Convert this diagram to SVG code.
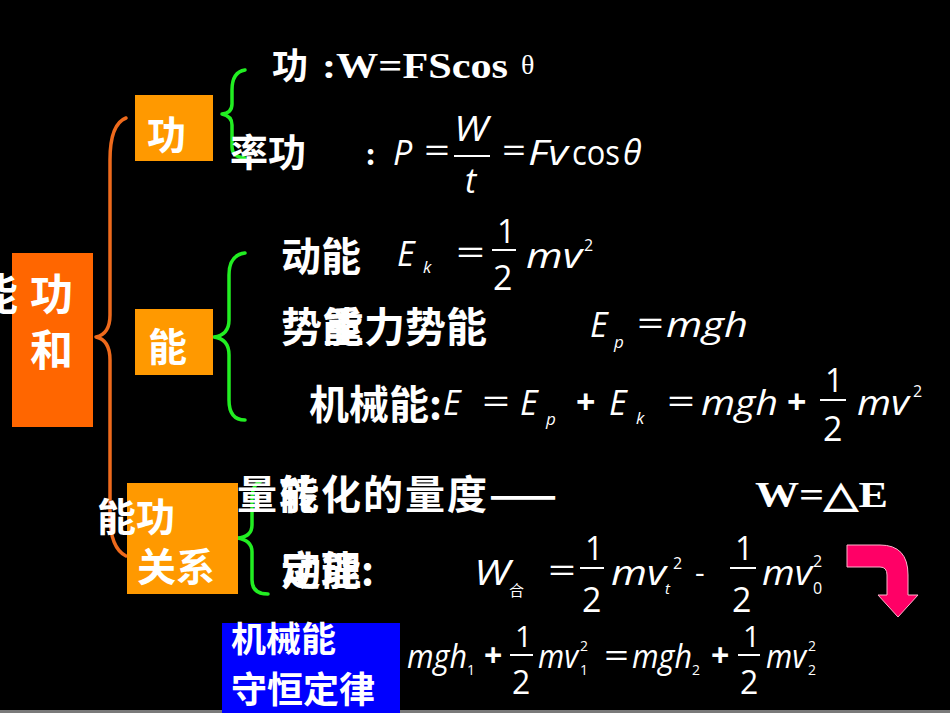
<svg xmlns="http://www.w3.org/2000/svg" width="950" height="713" viewBox="0 0 950 713">
<style>
.cj{font-family:"Noto Sans CJK SC","Noto Sans CJK TC",sans-serif;font-weight:700;fill:#fff}
.m{font-family:"Open Sans","DejaVu Sans",sans-serif;font-style:italic;fill:#fff}
.n{font-family:"Open Sans","DejaVu Sans",sans-serif;fill:#fff}
.b{font-family:"Liberation Serif",serif;font-weight:bold;fill:#fff}
.br{fill:none;stroke-width:3.5;stroke-linecap:round;stroke-linejoin:round}
.g{stroke:#22EE22}
.o{stroke:#EE6A1C}
.bar{stroke:#fff;stroke-width:2}
</style>
<rect width="950" height="713" fill="#000"/>
<rect x="0" y="710" width="950" height="3" fill="#7a7a7a"/>

<g id="connectors">
<path class="br o" d="M126,118 Q110,124 110,160 L110,315 Q110,334 96,337 Q110,340 110,360 L110,515 Q110,548 126,556"/>
<path class="br g" d="M245,70 Q232,72 232,90 L232,104 Q232,113 222,114 Q232,116 232,125 L232,147 Q232,157 245,158"/>
<path class="br g" d="M245,253 Q229,255 229,275 L229,320 Q229,335 214,337 Q229,339 229,355 L229,400 Q229,420 245,420"/>
<path class="br g" d="M260,482 Q252,484 252,500 L252,525 Q252,537 237,538 Q252,540 252,552 L252,580 Q252,594 268,594"/>
</g>

<g id="root">
<rect x="12" y="253" width="81" height="174" fill="#FF6600"/>
<text class="cj" x="-25" y="310" font-size="43">能</text>
<text class="cj" x="30" y="310" font-size="43">功</text>
<text class="cj" x="30" y="366" font-size="43">和</text>
</g>

<g id="work">
<rect x="135" y="95" width="78" height="66" fill="#FF9900"/>
<text class="cj" x="147" y="149" font-size="39">功</text>
</g>

<g id="energy">
<rect x="135" y="309" width="78" height="66" fill="#FF9900"/>
<text class="cj" x="148" y="361" font-size="39">能</text>
</g>

<g id="relation">
<rect x="127" y="483" width="111" height="111" fill="#FF9900"/>
<text class="cj" x="97" y="531" font-size="39">能功</text>
<text class="cj" x="137" y="581" font-size="39">关系</text>
</g>

<g id="work-def">
<text class="cj" x="272" y="79" font-size="36">功</text>
<text class="b" x="322" y="78" font-size="36" textLength="186" lengthAdjust="spacingAndGlyphs">:W=FScos</text>
<text x="521" y="74" font-size="28" style="font-family:'Liberation Serif',serif;fill:#fff">θ</text>
</g>

<g id="power">
<text class="cj" x="230" y="166" font-size="38">率功</text>
<text class="b" x="365" y="165" font-size="34">:</text>
<text class="m" x="393" y="165" font-size="34">P</text>
<text class="n" x="424" y="163" font-size="34" textLength="26" lengthAdjust="spacingAndGlyphs">=</text>
<text class="m" x="454" y="141" font-size="34" textLength="34" lengthAdjust="spacingAndGlyphs">W</text>
<line class="bar" x1="454" y1="156" x2="490" y2="156"/>
<text class="m" x="465" y="193" font-size="34">t</text>
<text class="n" x="502" y="163" font-size="34" textLength="24" lengthAdjust="spacingAndGlyphs">=</text>
<text class="m" x="528" y="165" font-size="34" textLength="40" lengthAdjust="spacingAndGlyphs">Fv</text>
<text class="n" x="572" y="165" font-size="34" textLength="48" lengthAdjust="spacingAndGlyphs">cos</text>
<text class="m" x="623" y="165" font-size="34">θ</text>
</g>

<g id="kinetic">
<text class="cj" x="281" y="271" font-size="40">动能</text>
<text class="m" x="397" y="266" font-size="34">E</text>
<text class="m" x="423" y="273" font-size="17">k</text>
<text class="n" x="456" y="265" font-size="34" textLength="29" lengthAdjust="spacingAndGlyphs">=</text>
<text class="n" x="497" y="243" font-size="32">1</text>
<line class="bar" x1="492" y1="250" x2="516" y2="250"/>
<text class="n" x="493" y="290" font-size="34">2</text>
<text class="m" x="526" y="268" font-size="34" textLength="56" lengthAdjust="spacingAndGlyphs">mv</text>
<text class="n" x="584" y="251" font-size="16">2</text>
</g>

<g id="potential">
<text class="cj" x="281" y="342" font-size="41">势能</text>
<text class="cj" x="323" y="342" font-size="41">重力势能</text>
<text class="m" x="590" y="337" font-size="34">E</text>
<text class="m" x="614" y="348" font-size="17">p</text>
<text class="n" x="637" y="336" font-size="34" textLength="27" lengthAdjust="spacingAndGlyphs">=</text>
<text class="m" x="666" y="337" font-size="34" textLength="82" lengthAdjust="spacingAndGlyphs">mgh</text>
</g>

<g id="mechanical">
<text class="cj" x="309" y="419" font-size="40">机械能:</text>
<text class="m" x="443" y="415" font-size="34">E</text>
<text class="n" x="482" y="414" font-size="34" textLength="28" lengthAdjust="spacingAndGlyphs">=</text>
<text class="m" x="520" y="415" font-size="34">E</text>
<text class="m" x="546" y="425" font-size="17">p</text>
<text class="n" x="576" y="414" font-size="34" font-weight="bold">+</text>
<text class="m" x="609" y="415" font-size="34">E</text>
<text class="m" x="636" y="424" font-size="17">k</text>
<text class="n" x="667" y="414" font-size="34" textLength="28" lengthAdjust="spacingAndGlyphs">=</text>
<text class="m" x="701" y="415" font-size="34" textLength="77" lengthAdjust="spacingAndGlyphs">mgh</text>
<text class="n" x="787" y="414" font-size="34" font-weight="bold">+</text>
<text class="n" x="825" y="392" font-size="32">1</text>
<line class="bar" x1="820" y1="400" x2="846" y2="400"/>
<text class="n" x="823" y="441" font-size="34">2</text>
<text class="m" x="857" y="415" font-size="34" textLength="52" lengthAdjust="spacingAndGlyphs">mv</text>
<text class="n" x="913" y="397" font-size="16">2</text>
</g>

<g id="measure">
<text class="cj" x="237" y="509" font-size="40" letter-spacing="2">量转化的量度——</text>
<text class="cj" x="279" y="509" font-size="40">能</text>
<text class="b" x="755" y="507" font-size="36" textLength="133" lengthAdjust="spacingAndGlyphs">W=△E</text>
</g>

<g id="theorem">
<text class="cj" x="281" y="585" font-size="40">动能:</text>
<text class="cj" x="281" y="585" font-size="40">定理</text>
<text class="m" x="474" y="585" font-size="34" textLength="36" lengthAdjust="spacingAndGlyphs">W</text>
<text x="509" y="596" font-size="15" style="font-family:'Noto Sans CJK SC',sans-serif;fill:#fff">合</text>
<text class="n" x="548" y="583" font-size="34" textLength="28" lengthAdjust="spacingAndGlyphs">=</text>
<text class="n" x="585" y="560" font-size="32">1</text>
<line class="bar" x1="580" y1="568" x2="604" y2="568"/>
<text class="n" x="582" y="612" font-size="34">2</text>
<text class="m" x="611" y="585" font-size="34" textLength="55" lengthAdjust="spacingAndGlyphs">mv</text>
<text class="m" x="665" y="594" font-size="15">t</text>
<text class="n" x="673" y="569" font-size="16">2</text>
<text class="n" x="695" y="583" font-size="30">-</text>
<text class="n" x="735" y="560" font-size="32">1</text>
<line class="bar" x1="730" y1="568" x2="756" y2="568"/>
<text class="n" x="732" y="612" font-size="34">2</text>
<text class="m" x="762" y="585" font-size="34" textLength="50" lengthAdjust="spacingAndGlyphs">mv</text>
<text class="n" x="813" y="567" font-size="16">2</text>
<text class="n" x="813" y="594" font-size="16">0</text>
</g>

<g id="arrow">
<path d="M847,545 L880,545 Q908,545 908,575 L908,595 L918,595 L898,617 L878,595 L887,595 L887,575 Q887,567 880,567 L847,567 Z" fill="#FF0066" stroke="#FFB3CC" stroke-width="1"/>
</g>

<g id="conservation">
<rect x="222" y="623" width="178" height="90" fill="#0000FF"/>
<text class="cj" x="231" y="652" font-size="35">机械能</text>
<text class="cj" x="231" y="703" font-size="36">守恒定律</text>
<text class="m" x="407" y="668" font-size="32" textLength="60" lengthAdjust="spacingAndGlyphs">mgh</text>
<text class="n" x="467" y="675" font-size="14">1</text>
<text class="n" x="484" y="667" font-size="32" font-weight="bold">+</text>
<text class="n" x="515" y="647" font-size="30">1</text>
<line class="bar" x1="510" y1="655" x2="533" y2="655"/>
<text class="n" x="512" y="694" font-size="32">2</text>
<text class="m" x="538" y="668" font-size="32" textLength="40" lengthAdjust="spacingAndGlyphs">mv</text>
<text class="n" x="580" y="651" font-size="14">2</text>
<text class="n" x="580" y="675" font-size="14">1</text>
<text class="n" x="604" y="667" font-size="32" textLength="25" lengthAdjust="spacingAndGlyphs">=</text>
<text class="m" x="632" y="668" font-size="32" textLength="60" lengthAdjust="spacingAndGlyphs">mgh</text>
<text class="n" x="692" y="675" font-size="14">2</text>
<text class="n" x="711" y="667" font-size="32" font-weight="bold">+</text>
<text class="n" x="743" y="647" font-size="30">1</text>
<line class="bar" x1="738" y1="655" x2="760" y2="655"/>
<text class="n" x="740" y="694" font-size="32">2</text>
<text class="m" x="766" y="668" font-size="32" textLength="40" lengthAdjust="spacingAndGlyphs">mv</text>
<text class="n" x="808" y="651" font-size="14">2</text>
<text class="n" x="808" y="675" font-size="14">2</text>
</g>
</svg>
